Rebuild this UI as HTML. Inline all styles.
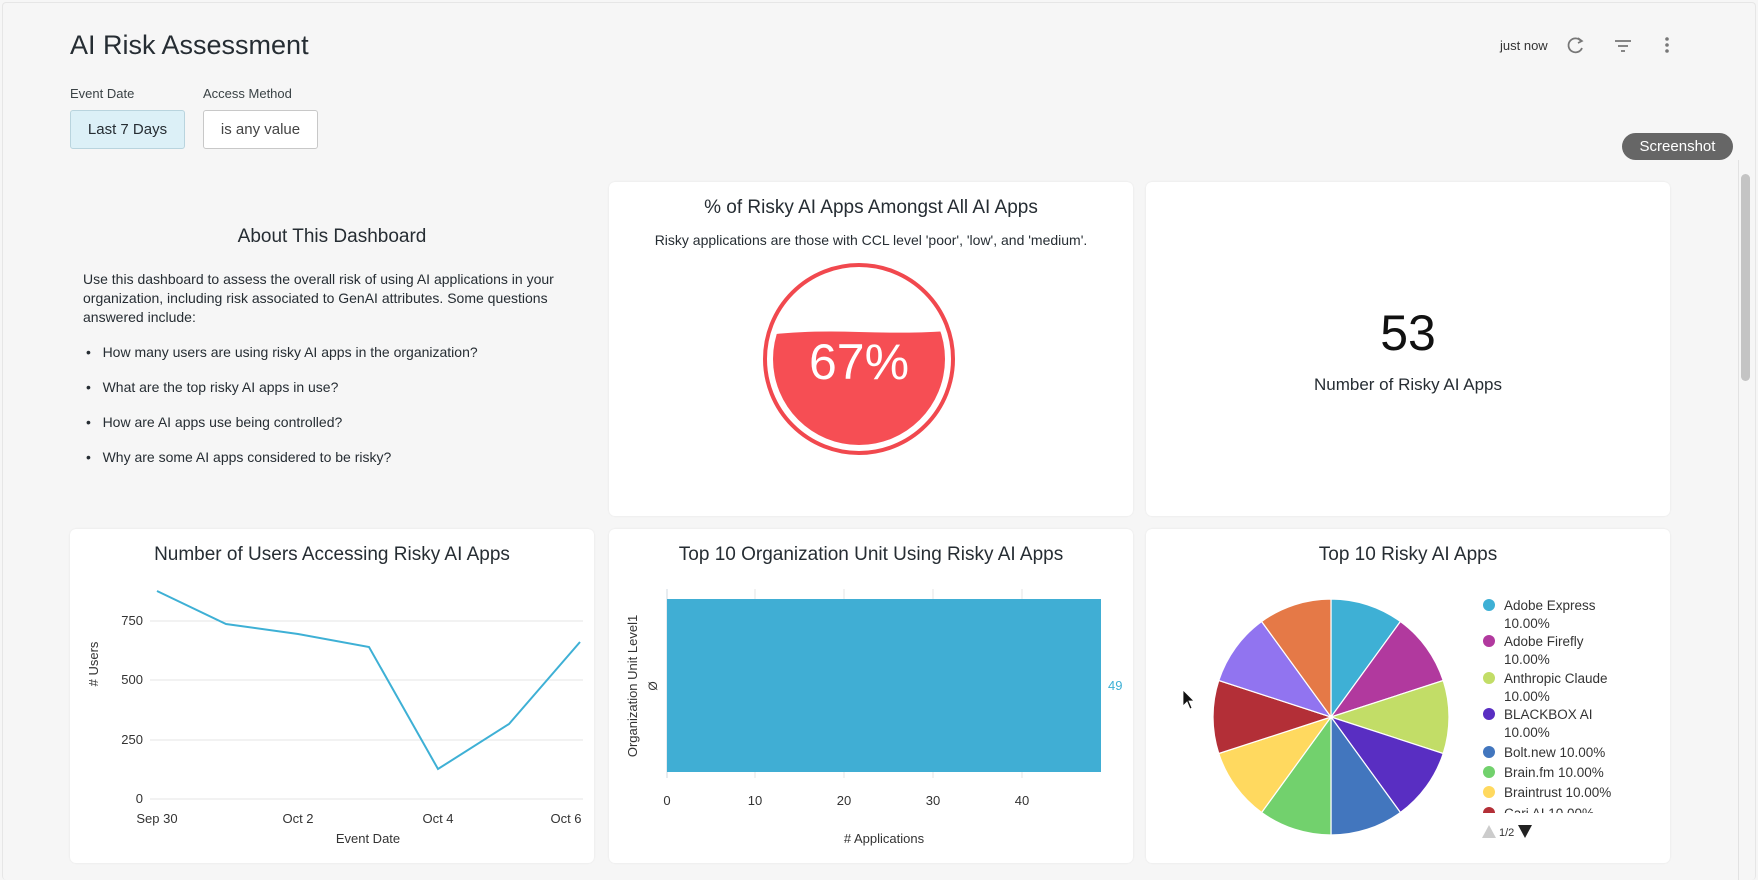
<!DOCTYPE html>
<html><head><meta charset="utf-8"><style>
body{margin:0;width:1758px;height:880px;background:#f6f6f6;font-family:"Liberation Sans",sans-serif;overflow:hidden;position:relative;color:#262d33}
.card{position:absolute;background:#fff;border-radius:6px;box-shadow:0 0 2px rgba(0,0,0,.08)}
.a{position:absolute;white-space:nowrap}
</style></head><body>
<div style="position:absolute;left:2px;top:2px;right:2px;bottom:0;border:1px solid #e6e6e6;border-bottom:none;border-radius:4px"></div>
<div class="a" style="left:70px;top:30px;font-size:27px;color:#262d33">AI Risk Assessment</div>
<div class="a" style="left:70px;top:86px;font-size:13px;color:#3a4245">Event Date</div>
<div class="a" style="left:203px;top:86px;font-size:13px;color:#3a4245">Access Method</div>
<div class="a" style="left:70px;top:110px;width:113px;height:37px;background:#dcf0f7;border:1px solid #b9d4de;border-radius:3px;font-size:15px;line-height:37px;text-align:center">Last 7 Days</div>
<div class="a" style="left:203px;top:110px;width:113px;height:37px;background:#fff;border:1px solid #c8c8c8;border-radius:3px;font-size:15px;line-height:37px;text-align:center;color:#444">is any value</div>
<div class="a" style="left:1500px;top:38px;font-size:13px;color:#333">just now</div>
<svg class="a" style="left:1560px;top:34px" width="120" height="24">
<path d="M21 7 A7 7 0 1 0 22 14" fill="none" stroke="#777" stroke-width="1.8"/><path d="M18 4 L22 7 L18 9" fill="none" stroke="#777" stroke-width="1.6"/>
<path d="M55 7h16M58 12h10M61 17h4" stroke="#777" stroke-width="1.8"/>
<circle cx="107" cy="5" r="1.8" fill="#777"/><circle cx="107" cy="11" r="1.8" fill="#777"/><circle cx="107" cy="17" r="1.8" fill="#777"/>
</svg>
<div class="a" style="left:1622px;top:133px;width:111px;height:27px;background:#666;border-radius:14px;color:#fff;font-size:15px;line-height:27px;text-align:center">Screenshot</div>
<div class="a" style="left:1741px;top:174px;width:9px;height:207px;background:#c4c4c4;border-radius:5px"></div>
<div class="a" style="left:1738px;top:160px;width:1px;height:720px;background:#e2e2e2"></div>

<div class="a" style="left:83px;top:226px;width:498px;text-align:center;font-size:19px">About This Dashboard</div>
<div class="a" style="left:83px;top:270px;width:475px;white-space:normal;font-size:14px;line-height:19px;color:#262d33">Use this dashboard to assess the overall risk of using AI applications in your organization, including risk associated to GenAI attributes. Some questions answered include:</div>
<div class="a" style="left:86px;top:335px;font-size:14px;line-height:35px">
<div>•&nbsp;&nbsp;&nbsp;How many users are using risky AI apps in the organization?</div>
<div>•&nbsp;&nbsp;&nbsp;What are the top risky AI apps in use?</div>
<div>•&nbsp;&nbsp;&nbsp;How are AI apps use being controlled?</div>
<div>•&nbsp;&nbsp;&nbsp;Why are some AI apps considered to be risky?</div></div>

<div class="card" style="left:609px;top:182px;width:524px;height:334px"></div>
<div class="card" style="left:1146px;top:182px;width:524px;height:334px"></div>
<div class="card" style="left:70px;top:529px;width:524px;height:334px"></div>
<div class="card" style="left:609px;top:529px;width:524px;height:334px"></div>
<div class="card" style="left:1146px;top:529px;width:524px;height:334px"></div>

<div class="a" style="left:609px;top:197px;width:524px;text-align:center;font-size:19px">% of Risky AI Apps Amongst All AI Apps</div>
<div class="a" style="left:609px;top:232px;width:524px;text-align:center;font-size:14px">Risky applications are those with CCL level 'poor', 'low', and 'medium'.</div>
<div class="a" style="left:1146px;top:304px;width:524px;text-align:center;font-size:50px;color:#111">53</div>
<div class="a" style="left:1146px;top:375px;width:524px;text-align:center;font-size:17px">Number of Risky AI Apps</div>

<div class="a" style="left:70px;top:544px;width:524px;text-align:center;font-size:19px">Number of Users Accessing Risky AI Apps</div>
<div class="a" style="left:609px;top:544px;width:524px;text-align:center;font-size:19px">Top 10 Organization Unit Using Risky AI Apps</div>
<div class="a" style="left:1146px;top:544px;width:524px;text-align:center;font-size:19px">Top 10 Risky AI Apps</div>

<svg class="a" style="left:0;top:0" width="1758" height="880" font-family="Liberation Sans, sans-serif">
<defs><clipPath id="c"><circle cx="859" cy="359" r="86"/></clipPath></defs>
<circle cx="859" cy="359" r="94" fill="none" stroke="#f1484e" stroke-width="4"/>
<path clip-path="url(#c)" d="M760 336 Q800 330 859 332 T960 330 V460 H760Z" fill="#f64e54"/>
<text x="859" y="379" font-size="50" fill="#fff" text-anchor="middle">67%</text>

<g stroke="#e6e6e6" stroke-width="1">
<line x1="150" y1="621" x2="583" y2="621"/><line x1="150" y1="680" x2="583" y2="680"/><line x1="150" y1="740" x2="583" y2="740"/><line x1="150" y1="799" x2="583" y2="799"/>
</g>
<g font-size="13" fill="#333" text-anchor="end"><text x="143" y="625">750</text><text x="143" y="684">500</text><text x="143" y="744">250</text><text x="143" y="803">0</text></g>
<g font-size="13" fill="#333" text-anchor="middle"><text x="157" y="823">Sep 30</text><text x="298" y="823">Oct 2</text><text x="438" y="823">Oct 4</text><text x="566" y="823">Oct 6</text></g>
<text x="368" y="843" font-size="13" fill="#333" text-anchor="middle">Event Date</text>
<text transform="translate(98,664) rotate(-90)" font-size="13" fill="#333" text-anchor="middle"># Users</text>
<polyline points="157,591 226,624 298,634 369,647 438,769 509,724 580,642" fill="none" stroke="#3eb0d5" stroke-width="2"/>

<g stroke="#e6e6e6"><line x1="755" y1="589" x2="755" y2="778"/><line x1="844" y1="589" x2="844" y2="778"/><line x1="933" y1="589" x2="933" y2="778"/><line x1="1022" y1="589" x2="1022" y2="778"/></g>
<line x1="667" y1="589" x2="667" y2="778" stroke="#cfd8e0"/>
<rect x="667" y="599" width="434" height="173" fill="#40aed4"/>
<g font-size="13" fill="#333" text-anchor="middle"><text x="667" y="805">0</text><text x="755" y="805">10</text><text x="844" y="805">20</text><text x="933" y="805">30</text><text x="1022" y="805">40</text></g>
<text x="884" y="843" font-size="13" fill="#333" text-anchor="middle"># Applications</text>
<text x="1108" y="690" font-size="13" fill="#3eb0d5">49</text>
<text transform="translate(657,686) rotate(-90)" font-size="12" fill="#333" text-anchor="middle">Ø</text>
<text transform="translate(637,686) rotate(-90)" font-size="13" fill="#333" text-anchor="middle">Organization Unit Level1</text>

<g stroke="#fff" stroke-width="1.2">
<path d="M1331 717L1331 599A118 118 0 0 1 1400.4 621.5Z" fill="#3eb0d5"/>
<path d="M1331 717L1400.4 621.5A118 118 0 0 1 1443.2 680.5Z" fill="#b1399e"/>
<path d="M1331 717L1443.2 680.5A118 118 0 0 1 1443.2 753.5Z" fill="#c2dd67"/>
<path d="M1331 717L1443.2 753.5A118 118 0 0 1 1400.4 812.5Z" fill="#592ec2"/>
<path d="M1331 717L1400.4 812.5A118 118 0 0 1 1331 835Z" fill="#4276be"/>
<path d="M1331 717L1331 835A118 118 0 0 1 1261.6 812.5Z" fill="#72d16d"/>
<path d="M1331 717L1261.6 812.5A118 118 0 0 1 1218.8 753.5Z" fill="#ffd95f"/>
<path d="M1331 717L1218.8 753.5A118 118 0 0 1 1218.8 680.5Z" fill="#b32f37"/>
<path d="M1331 717L1218.8 680.5A118 118 0 0 1 1261.6 621.5Z" fill="#9174f0"/>
<path d="M1331 717L1261.6 621.5A118 118 0 0 1 1331 599Z" fill="#e57947"/>
</g>
<path d="M1183 690 L1183 706 L1187 702 L1190 709 L1192 708 L1189 701 L1194 701Z" fill="#111" stroke="#fff" stroke-width=".8"/>
<defs><clipPath id="lg"><rect x="1480" y="590" width="200" height="223"/></clipPath></defs>
<g clip-path="url(#lg)" font-size="13.5" fill="#333">
<circle cx="1489" cy="605" r="6" fill="#3eb0d5"/><text x="1504" y="610">Adobe Express</text><text x="1504" y="628">10.00%</text>
<circle cx="1489" cy="641" r="6" fill="#b1399e"/><text x="1504" y="646">Adobe Firefly</text><text x="1504" y="664">10.00%</text>
<circle cx="1489" cy="678" r="6" fill="#c2dd67"/><text x="1504" y="683">Anthropic Claude</text><text x="1504" y="701">10.00%</text>
<circle cx="1489" cy="714" r="6" fill="#592ec2"/><text x="1504" y="719">BLACKBOX AI</text><text x="1504" y="737">10.00%</text>
<circle cx="1489" cy="752" r="6" fill="#4276be"/><text x="1504" y="757">Bolt.new 10.00%</text>
<circle cx="1489" cy="772" r="6" fill="#72d16d"/><text x="1504" y="777">Brain.fm 10.00%</text>
<circle cx="1489" cy="792" r="6" fill="#ffd95f"/><text x="1504" y="797">Braintrust 10.00%</text>
<circle cx="1489" cy="813" r="6" fill="#b32f37"/><text x="1504" y="818">Cari AI 10.00%</text>
</g>
<path d="M1482 838 L1489 825 L1496 838Z" fill="#ccc"/>
<text x="1499" y="836" font-size="11" fill="#333">1/2</text>
<path d="M1518 825 L1532 825 L1525 838Z" fill="#222"/>
</svg>
</body></html>
